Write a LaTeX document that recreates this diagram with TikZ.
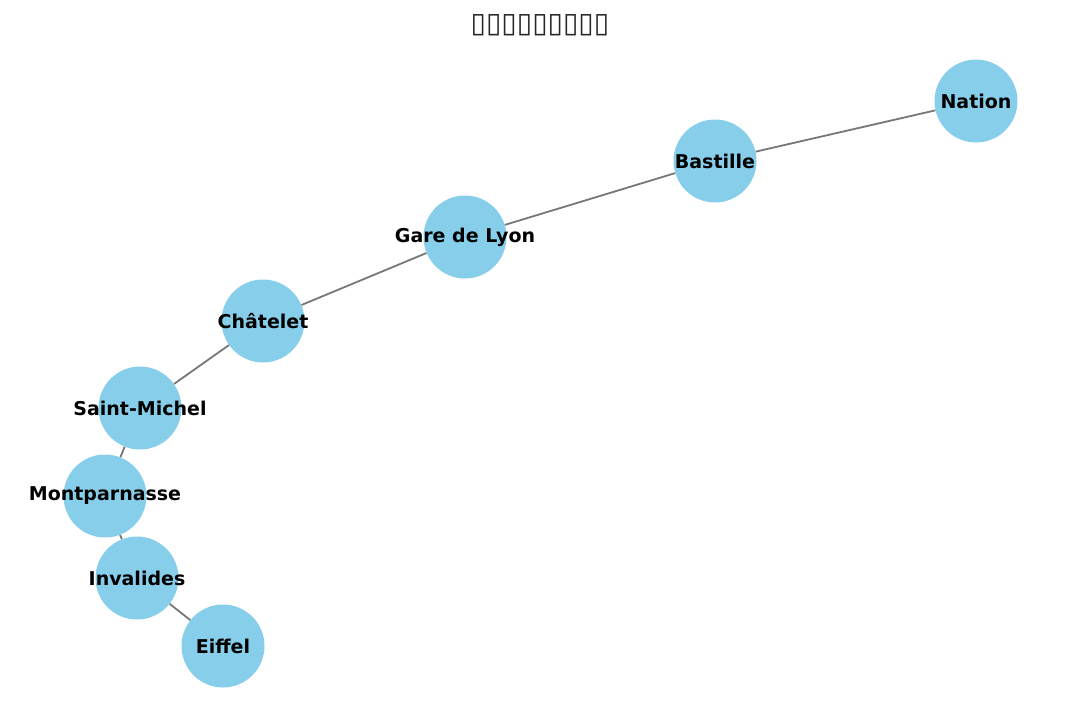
\documentclass[tikz,border=0pt]{standalone}
\usepackage{fontspec}
\setmainfont{DejaVu Sans}
\newfontfamily\labelfont{DejaVu Sans}
\definecolor{nodeblue}{HTML}{87CEEB}
\definecolor{edgegray}{HTML}{777777}
\definecolor{titlegray}{HTML}{262626}
\tikzset{
  station/.style={circle, fill=nodeblue, minimum size=83pt, inner sep=0pt,
    label={[font=\labelfont\bfseries\fontsize{19}{22}\selectfont, text=black, inner sep=0pt]center:#1}},
  link/.style={draw=edgegray, line width=1.8pt},
  titletext/.style={font=\labelfont\fontsize{28}{32}\selectfont, text=titlegray}
}
\begin{document}
\begin{tikzpicture}[x=1pt,y=-1pt]
\useasboundingbox (0,0) rectangle (1080,716);
\node[station=Nation] (nation) at (976,101) {};
\node[station=Bastille] (bastille) at (715,161) {};
\node[station=Gare de Lyon] (gare) at (465,237) {};
\node[station=Châtelet] (chatelet) at (263,321) {};
\node[station=Saint-Michel] (michel) at (140,408) {};
\node[station=Montparnasse] (montp) at (105,496) {};
\node[station=Invalides] (invalides) at (137,578) {};
\node[station=Eiffel] (eiffel) at (223,646) {};
\draw[link] (nation) -- (bastille);
\draw[link] (bastille) -- (gare);
\draw[link] (gare) -- (chatelet);
\draw[link] (chatelet) -- (michel);
\draw[link] (michel) -- (montp);
\draw[link] (montp) -- (invalides);
\draw[link] (invalides) -- (eiffel);
\node[titletext] (title) at (540,25) {▯▯▯▯▯▯▯▯▯};
\end{tikzpicture}
\end{document}
